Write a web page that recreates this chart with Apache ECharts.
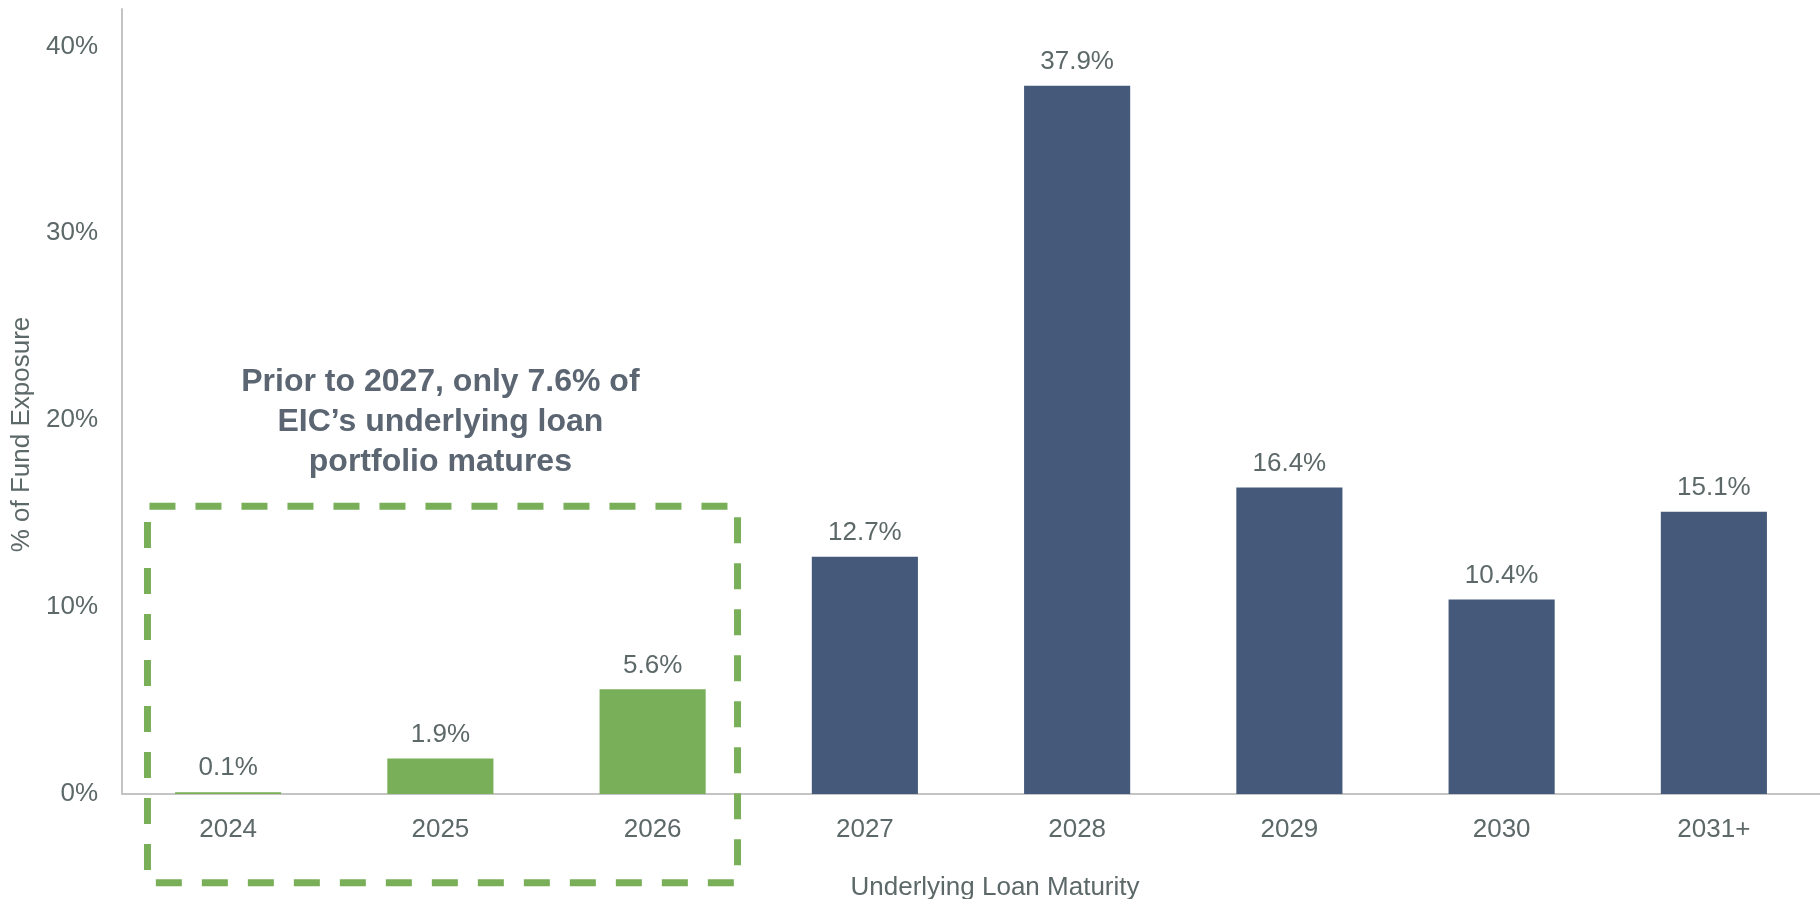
<!DOCTYPE html>
<html>
<head>
<meta charset="utf-8">
<script src="https://cdn.jsdelivr.net/npm/echarts@6/dist/echarts.min.js"></script>
<style>
html,body{margin:0;padding:0;background:#fff;}
#chart{width:1820px;height:899px;}
</style>
</head>
<body>
<div id="chart"></div>
<script>
const categories = ['2024','2025','2026','2027','2028','2029','2030','2031+'];
const values = [0.1, 1.9, 5.6, 12.7, 37.9, 16.4, 10.4, 15.1];
const highlightCount = 3; // first three bars (prior to 2027) in green
const yTicks = [0, 10, 20, 30, 40];
const annotationLines = ['Prior to 2027, only 7.6% of', 'EIC\u2019s underlying loan', 'portfolio matures'];

const FONT = 'Arial, "Liberation Sans", Helvetica, sans-serif';
const GREEN = '#79AF59';
const NAVY = '#455A7B';
const TEXT = '#5d6869';
const AXIS = '#c4c4c4';

(function () {
const chart = echarts.init(document.getElementById('chart'), null, {renderer: 'canvas'});

const option = {
  backgroundColor: '#fff',
  animation: false,
  grid: {left: 122, right: 0, top: 9, bottom: 105, outerBoundsMode: 'none', containLabel: false},
  xAxis: {
    type: 'category',
    data: categories,
    boundaryGap: true,
    axisLine: {show: true, lineStyle: {color: AXIS, width: 2}},
    axisTick: {show: false},
    axisLabel: {color: TEXT, fontSize: 26, fontFamily: FONT, margin: 23},
    name: 'Underlying Loan Maturity',
    nameLocation: 'middle',
    nameGap: 81,
    nameTextStyle: {color: TEXT, fontSize: 26, fontFamily: FONT, padding: [0, 0, 0, 48]}
  },
  yAxis: {
    type: 'value',
    min: 0,
    max: 42,
    interval: 10,
    axisLine: {show: true, lineStyle: {color: AXIS, width: 2}},
    axisTick: {show: false},
    splitLine: {show: false},
    axisLabel: {
      color: TEXT, fontSize: 26, fontFamily: FONT, margin: 24,
      formatter: function (v) { return yTicks.indexOf(v) >= 0 ? v + '%' : ''; }
    },
    name: '% of Fund Exposure',
    nameLocation: 'middle',
    nameGap: 84,
    nameRotate: 90,
    nameTextStyle: {color: TEXT, fontSize: 26, fontFamily: FONT, padding: [0, 66, 0, 0]}
  },
  series: [{
    type: 'bar',
    data: values.map(function (v, i) {
      return {value: v, itemStyle: {color: i < highlightCount ? GREEN : NAVY}};
    }),
    barWidth: '50%',
    label: {
      show: true,
      position: 'top',
      distance: 11,
      color: TEXT,
      fontSize: 26,
      fontFamily: FONT,
      formatter: function (p) { return p.value.toFixed(1) + '%'; }
    }
  }]
};

chart.setOption(option);

// Annotation: dashed box around the pre-2027 bars and a bold note, positioned via the chart's scales
const p0 = chart.convertToPixel({gridIndex: 0}, [0, 0]);
const p1 = chart.convertToPixel({gridIndex: 0}, [1, 0]);
const step = p1[0] - p0[0];
const boxLeft = p0[0] - 0.38 * step;
const boxRight = chart.convertToPixel({gridIndex: 0}, [2, 0])[0] + 0.40 * step;
const boxTop = chart.convertToPixel({gridIndex: 0}, [0, 15.4])[1];
const boxBottom = chart.convertToPixel({gridIndex: 0}, [0, -4.75])[1];
const noteCenter = chart.convertToPixel({gridIndex: 0}, [1, 19.9]);

chart.setOption({
  graphic: [
    {
      type: 'rect',
      shape: {x: boxLeft, y: boxTop, width: boxRight - boxLeft, height: boxBottom - boxTop, r: 2},
      style: {fill: 'none', stroke: GREEN, lineWidth: 7, lineDash: [26, 20]},
      silent: true,
      z: 10
    },
    {
      type: 'text',
      x: noteCenter[0],
      y: noteCenter[1],
      style: {
        text: annotationLines.join('\n'),
        fill: '#5b6672',
        font: 'bold 32px ' + FONT,
        lineHeight: 40,
        align: 'center',
        verticalAlign: 'middle'
      },
      silent: true,
      z: 10
    }
  ]
});
})();
</script>
</body>
</html>
